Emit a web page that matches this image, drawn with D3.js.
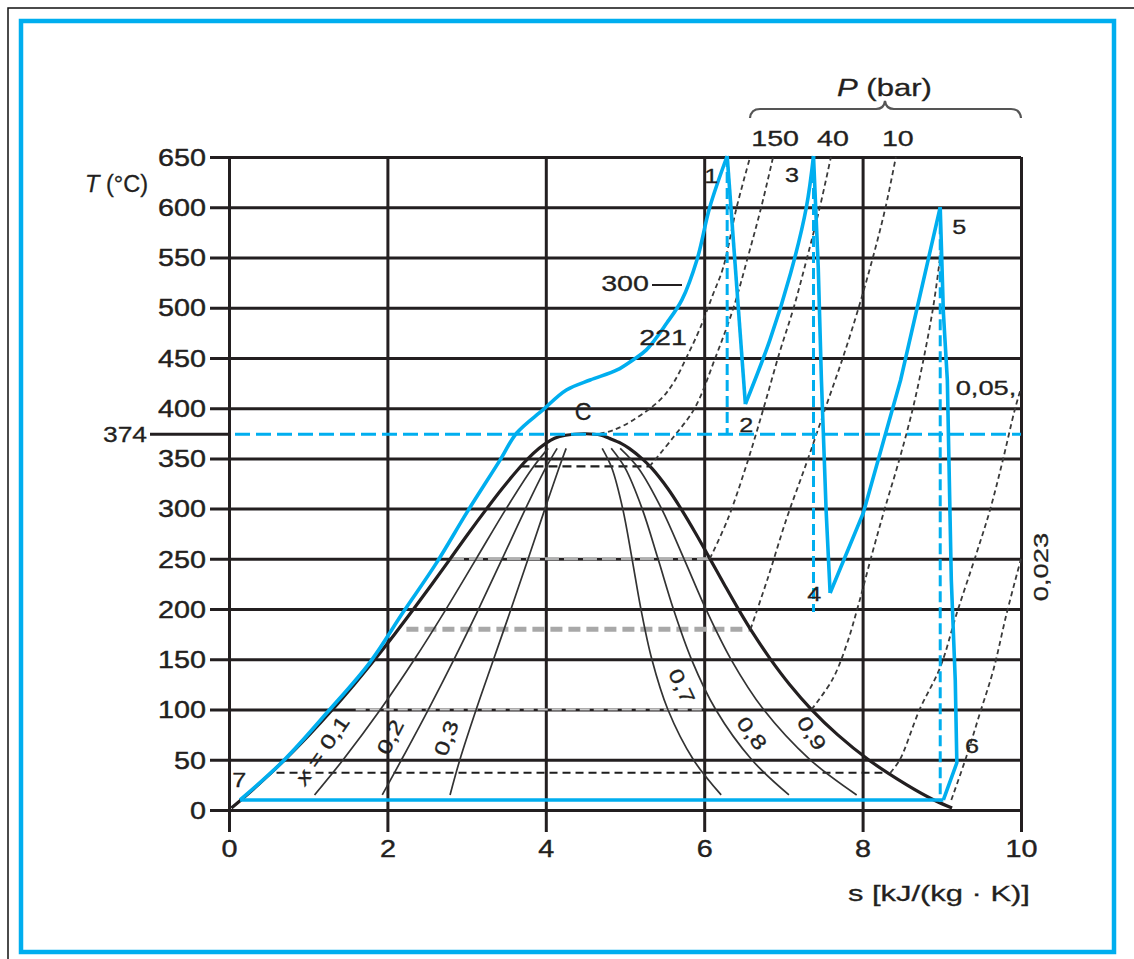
<!DOCTYPE html>
<html><head><meta charset="utf-8">
<script src="https://cdn.jsdelivr.net/npm/d3@7"></script>
<style>body{margin:0;background:#fff}svg{display:block}</style>
</head><body>
<svg id="c" width="1134" height="959"></svg>
<script>
// ---------- DATA ----------
const sTicks = [0, 2, 4, 6, 8, 10];
const tTicks = [0, 50, 100, 150, 200, 250, 300, 350, 400, 450, 500, 550, 600, 650];
const tCritical = 374;

// saturation dome (T in °C, s' and s'' in kJ/(kg K))
const domeT  = [2, 10, 25, 50, 75, 100, 125, 150, 175, 200, 225, 250, 275, 300, 320, 340, 350, 360, 365, 370, 373, 374.5];
const domeSf = [0.03, 0.151, 0.367, 0.704, 1.016, 1.307, 1.581, 1.842, 2.091, 2.331, 2.564, 2.793, 3.020, 3.255, 3.45, 3.66, 3.778, 3.916, 4.00, 4.11, 4.25, 4.50];
const domeSg = [9.13, 8.900, 8.558, 8.075, 7.683, 7.355, 7.078, 6.838, 6.624, 6.431, 6.250, 6.073, 5.895, 5.706, 5.54, 5.34, 5.211, 5.053, 4.95, 4.80, 4.70, 4.50];

// lines of constant quality x
const qualT = [15, 50, 100, 150, 200, 250, 300, 340, 360];
const q01 = [1.080, 1.441, 1.912, 2.342, 2.741, 3.121, 3.500, 3.828, 4.030];
const q02 = [1.935, 2.178, 2.517, 2.841, 3.151, 3.449, 3.745, 3.996, 4.143];
const q03 = [2.791, 2.915, 3.121, 3.341, 3.561, 3.777, 3.990, 4.164, 4.257];
const q07 = [6.214, 5.864, 5.541, 5.339, 5.201, 5.089, 4.971, 4.836, 4.712];
const q08 = [7.070, 6.601, 6.145, 5.839, 5.611, 5.417, 5.216, 5.004, 4.826];
const q09 = [7.925, 7.338, 6.750, 6.338, 6.021, 5.745, 5.461, 5.172, 4.939];
const qualLabels = ['x = 0,1', '0,2', '0,3', '0,7', '0,8', '0,9'];

// isobars in the wet region (horizontal): T, s start, s end
const wetT  = [342, 250, 180, 100, 37];
const wetS0 = [3.68, 2.79, 2.24, 1.60, 0.60];
const wetS1 = [5.31, 6.07, 6.585, 6.00, 8.25];

// isobars in the superheated region [s, T]
const iso221 = [[4.68,374.5],[4.85,378],[5.10,388],[5.44,408],[5.61,425],[5.78,451],[5.95,480],[6.11,513],[6.24,540],[6.41,600],[6.58,650]];
const iso150 = [[5.31,342],[5.60,370],[5.88,400],[6.14,450],[6.37,500],[6.55,550],[6.72,600],[6.87,650]];
const iso40  = [[6.07,250],[6.30,290],[6.54,345],[6.75,400],[6.95,455],[7.13,500],[7.30,550],[7.46,600],[7.60,650]];
const iso10  = [[6.585,180],[6.80,230],[7.04,290],[7.29,345],[7.53,400],[7.75,450],[7.95,500],[8.13,550],[8.29,600],[8.42,650]];
const iso1   = [[7.355,100],[7.62,130],[7.80,165],[7.95,205],[8.12,255],[8.28,300],[8.45,345],[8.62,395],[8.76,445],[8.89,500],[8.97,545],[9.0,565]];
const iso005 = [[8.35,37],[8.47,50],[8.72,100],[8.98,142],[9.19,196],[9.44,256],[9.61,299],[9.77,348],[9.92,398],[10.0,420]];
const iso0023 = [[9.12,10],[9.31,53],[9.48,96],[9.65,139],[9.82,196],[10.0,250]];
const pressureLabels = ['150', '40', '10'];

// Rankine cycle with reheat [s, T]
const heat71   = [[0.14,10],[0.70,50],[1.25,98],[1.78,147],[2.20,197],[2.62,246],[3.01,297],[3.42,348],[3.63,375],[3.96,398],[4.26,418],[4.56,428],[4.90,438],[5.10,448],[5.27,458],[5.53,485],[5.72,508],[5.91,548],[6.07,600],[6.29,651]];
const exp12    = [[6.29,651],[6.52,404]];
const reheat23 = [[6.52,404],[6.83,468],[7.09,534],[7.29,600],[7.38,651]];
const exp34    = [[7.38,651],[7.44,540],[7.48,428],[7.54,297],[7.59,216]];
const reheat45 = [[7.59,216],[8.01,296],[8.48,428],[8.98,600]];
const exp56    = [[8.98,600],[9.02,495],[9.07,428],[9.12,229],[9.17,129],[9.19,47],[9.02,10]];
const cond67   = [[9.02,10],[0.14,10]];
// isentropic reference lines: s, T top, T bottom
const isenS   = [6.29, 7.38, 8.98];
const isenTop = [651, 651, 600];
const isenBot = [374, 197, 8];

// ---------- DRAW ----------
const svg = d3.select('#c');
const W = 1134, H = 959;
const INK = '#231f20', BLUE = '#00aeef', DASH = '#3a3a3a';
const FONT = '"Liberation Sans", Arial, Helvetica, sans-serif';
const x = d3.scaleLinear().domain([0, 10]).range([229, 1021]);
const y = d3.scaleLinear().domain([0, 650]).range([810, 157]);

svg.append('rect').attr('width', W).attr('height', H).attr('fill', '#fff');
svg.append('path').attr('d', 'M8,959 V8 H1134').attr('fill', 'none').attr('stroke', '#111').attr('stroke-width', 1.5);
svg.append('rect').attr('x', 21).attr('y', 21).attr('width', 1093).attr('height', 931)
  .attr('fill', 'none').attr('stroke', BLUE).attr('stroke-width', 4.5);

// axes with full grid
const yAxis = d3.axisLeft(y).tickValues(tTicks).tickSize(x(10) - 210).tickPadding(4).tickFormat(d3.format('d'));
const gy = svg.append('g').attr('transform', `translate(${x(10)},0)`).call(yAxis);
gy.select('.domain').remove();
gy.selectAll('line').attr('stroke', INK).attr('stroke-width', 3);
gy.attr('font-family', FONT).attr('font-size', 23);
gy.selectAll('text').attr('fill', INK).attr('stroke', INK).attr('stroke-width', 0.4)
  .attr('x', 0).attr('dy', '0.36em')
  .attr('transform', `translate(${-(x(10) - 206)},0) scale(1.25,1)`);

const xAxis = d3.axisBottom(x).tickValues(sTicks).tickSize(832 - y(650)).tickPadding(9);
const gx = svg.append('g').attr('transform', `translate(0,${y(650)})`).call(xAxis);
gx.select('.domain').remove();
gx.selectAll('line').attr('stroke', INK).attr('stroke-width', 3);
gx.attr('font-family', FONT).attr('font-size', 23);
gx.selectAll('text').attr('fill', INK).attr('stroke', INK).attr('stroke-width', 0.4).attr('transform', 'scale(1.25,1)');

const line = d3.line().x(d => x(d[0])).y(d => y(d[1]));
const smooth = d3.line().x(d => x(d[0])).y(d => y(d[1])).curve(d3.curveCatmullRom.alpha(0.5));

// wet-region horizontal isobars
const wetStyle = [
  {stroke: '#1e1e1e', w: 2.2, dash: '9,5'},
  {stroke: '#b0b0b0', w: 3, dash: '14,5'},
  {stroke: '#a8a8a8', w: 5, dash: '12,6'},
  {stroke: '#c8c8c8', w: 2, dash: '10,4'},
  {stroke: '#1e1e1e', w: 2, dash: '8,5'}
];
wetT.forEach((t, i) => {
  svg.append('path').attr('d', line([[wetS0[i], t], [wetS1[i], t]]))
    .attr('fill', 'none').attr('stroke', wetStyle[i].stroke).attr('stroke-width', wetStyle[i].w)
    .attr('stroke-dasharray', wetStyle[i].dash);
});

// quality lines
[q01, q02, q03, q07, q08, q09].forEach(q => {
  svg.append('path').attr('d', smooth(qualT.map((t, i) => [q[i], t])))
    .attr('fill', 'none').attr('stroke', '#333').attr('stroke-width', 1.7);
});

// dome
const domeLeft = domeT.map((t, i) => [domeSf[i], t]);
const domeRight = domeT.map((t, i) => [domeSg[i], t]).reverse().slice(1);
svg.append('path').attr('d', smooth(domeLeft.concat(domeRight)))
  .attr('fill', 'none').attr('stroke', INK).attr('stroke-width', 3.2);

// superheated isobars
[iso221, iso150, iso40, iso10, iso1, iso005, iso0023].forEach(p => {
  svg.append('path').attr('d', smooth(p)).attr('fill', 'none')
    .attr('stroke', DASH).attr('stroke-width', 1.8).attr('stroke-dasharray', '5,3.5');
});

// critical temperature line
svg.append('line').attr('x1', 150).attr('x2', x(0)).attr('y1', y(tCritical)).attr('y2', y(tCritical))
  .attr('stroke', INK).attr('stroke-width', 3);
svg.append('line').attr('x1', x(0) + 6).attr('x2', x(10)).attr('y1', y(tCritical)).attr('y2', y(tCritical))
  .attr('stroke', BLUE).attr('stroke-width', 3).attr('stroke-dasharray', '15,6');

// isentropic reference lines
isenS.forEach((s, i) => {
  svg.append('path').attr('d', line([[s, isenTop[i]], [s, isenBot[i]]]))
    .attr('fill', 'none').attr('stroke', BLUE).attr('stroke-width', 3).attr('stroke-dasharray', '11,5');
});

// cycle
svg.append('path').attr('d', smooth(heat71)).attr('fill', 'none').attr('stroke', BLUE).attr('stroke-width', 3.6);
svg.append('path').attr('d', smooth(reheat23)).attr('fill', 'none').attr('stroke', BLUE).attr('stroke-width', 3.6);
[exp12, exp34, reheat45, exp56, cond67].forEach(p => {
  svg.append('path').attr('d', line(p)).attr('fill', 'none').attr('stroke', BLUE)
    .attr('stroke-width', 3.6).attr('stroke-linejoin', 'miter');
});

// ---------- TEXT ----------
function label(px, py, parts, opt = {}) {
  const g = svg.append('g').attr('transform', `translate(${px},${py})` + (opt.rot ? ` rotate(${opt.rot})` : ''));
  const t = g.append('text').attr('text-anchor', opt.anchor || 'middle').attr('dy', opt.dy || '0.36em')
    .attr('font-family', FONT).attr('font-size', opt.size || 21).attr('fill', INK)
    .attr('stroke', INK).attr('stroke-width', 0.3);
  (Array.isArray(parts) ? parts : [[parts]]).forEach(p => {
    const ts = t.append('tspan').text(p[0]);
    if (p[1]) ts.attr('font-style', 'italic');
  });
  let sx = opt.sx || 1;
  if (opt.width) sx = opt.width / t.node().getComputedTextLength();
  t.attr('transform', `scale(${sx},1)`);
  return t;
}

label(148, 183, [['T', true], [' (°C)']], {anchor: 'end', size: 24, sx: 0.98});
label(837, 87, [['P', true], [' (bar)']], {anchor: 'start', size: 24, width: 95});
label(848, 893, 's [kJ/(kg · K)]', {anchor: 'start', size: 22, width: 182});
label(147, y(tCritical), '374', {anchor: 'end', size: 22, sx: 1.2});

// pressure labels at top
const pLabelS = [6.87, 7.60, 8.42];
pressureLabels.forEach((p, i) => label(x(pLabelS[i]) + 2, 138, p, {size: 22, sx: 1.3}));

// brace
svg.append('path')
  .attr('d', 'M750,118 Q751,109 760,109 L876,109 Q884,109 885,101 Q886,109 894,109 L1011,109 Q1020,109 1021,118')
  .attr('fill', 'none').attr('stroke', '#555').attr('stroke-width', 2.2);

// point labels
label(x(6.09), y(632), '1', {sx: 1.2});
label(x(6.53), y(384), '2', {sx: 1.2});
label(x(7.11), y(633), '3', {sx: 1.2});
label(x(7.39), y(216), '4', {sx: 1.2});
label(x(9.22), y(581), '5', {sx: 1.2});
label(x(9.38), y(64), '6', {sx: 1.2});
label(x(0.13), y(30), '7', {sx: 1.2});
label(x(4.47), y(396), 'C', {size: 23});

// isobar labels
label(625, 283, '300', {size: 22, sx: 1.3});
svg.append('line').attr('x1', 652).attr('x2', 682).attr('y1', 285).attr('y2', 285).attr('stroke', INK).attr('stroke-width', 2);
label(663, 337, '221', {size: 22, sx: 1.3});
label(986, 387, '0,05,', {size: 21, sx: 1.3});
label(1040, 567, '0,023', {size: 21, sx: 1.3, rot: -90});

// quality labels
const qLabelPos = [[322, 750, -55], [390, 737, -63], [446, 738, -69], [682, 686, 65], [752, 733, 53], [812, 733, 57]];
qualLabels.forEach((q, i) => {
  const [px, py, r] = qLabelPos[i];
  const parts = q.startsWith('x') ? [['x', true], [q.slice(1)]] : q;
  label(px, py, parts, {size: 20, sx: 1.3, rot: r});
});
</script>
</body></html>
